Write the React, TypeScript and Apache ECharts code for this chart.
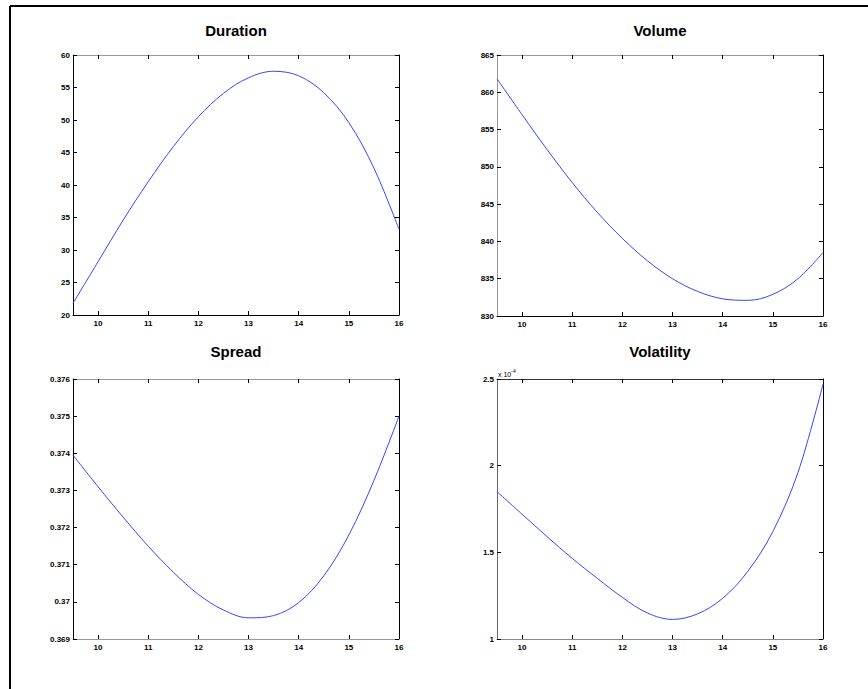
import React, { useEffect, useRef } from "react";
import * as echarts from "echarts";

const xValues = [9.5, 10, 10.5, 11, 11.5, 12, 12.5, 13, 13.5, 14, 14.5, 15, 15.5, 16];
const durationValues = [21.8, 28.2, 34.6, 40.5, 45.9, 50.5, 54.1, 56.5, 57.5, 56.8, 54.2, 49.6, 42.6, 33.2];
const volumeValues = [861.8, 857.0, 852.3, 847.9, 843.9, 840.4, 837.4, 835.0, 833.3, 832.3, 832.1, 832.9, 835.0, 838.5];
const spreadValues = [0.37395, 0.3731, 0.37228, 0.3715, 0.3708, 0.3702, 0.36978, 0.36957, 0.36963, 0.36998, 0.3707, 0.3718, 0.37327, 0.375];
const volatilityValues = [1.85, 1.72, 1.59, 1.465, 1.35, 1.24, 1.15, 1.113, 1.145, 1.235, 1.39, 1.62, 1.96, 2.47];

const xTicks = [10, 11, 12, 13, 14, 15, 16];
const durationTicks = [20, 25, 30, 35, 40, 45, 50, 55, 60];
const volumeTicks = [830, 835, 840, 845, 850, 855, 860, 865];
const spreadTicks = [0.369, 0.37, 0.371, 0.372, 0.373, 0.374, 0.375, 0.376];
const volatilityTicks = [1, 1.5, 2, 2.5];

const titles = ["Duration", "Volume", "Spread", "Volatility"];

const FONT = "'Liberation Sans', Arial, Helvetica, sans-serif";

export default function App() {
  const ref = useRef<HTMLDivElement>(null);
  useEffect(() => {
    if (!ref.current) return;
    const chart = echarts.init(ref.current, null, { renderer: "svg" });

    const panels = [
      { left: 73, top: 55, width: 326, height: 260, data: durationValues, ticks: durationTicks, colors: ["#000", "#999", "#000", "#000"] },
      { left: 497, top: 55, width: 326, height: 261, data: volumeValues, ticks: volumeTicks, colors: ["#999", "#999", "#000", "#000"] },
      { left: 73, top: 379, width: 326, height: 260, data: spreadValues, ticks: spreadTicks, colors: ["#000", "#999", "#999", "#000"] },
      { left: 497, top: 379, width: 326, height: 260, data: volatilityValues, ticks: volatilityTicks, colors: ["#666", "#333", "#888", "#000"] },
    ];

    const grid: any[] = [];
    const xAxis: any[] = [];
    const yAxis: any[] = [];
    const series: any[] = [];
    const graphic: any[] = [];

    const fmt = (v: number) => String(+v.toFixed(4));

    panels.forEach((p, i) => {
      grid.push({ left: p.left, top: p.top, width: p.width, height: p.height, containLabel: false });
      const [cl, ct, cb, cr] = p.colors;
      const tickLabel = { fontFamily: FONT, fontSize: 8, fontWeight: "bold", color: "#000" };
      xAxis.push({
        type: "value", gridIndex: i, position: "bottom", min: 9.5, max: 16,
        axisLine: { show: true, lineStyle: { color: cb, width: 1 } },
        axisTick: { show: true, inside: true, length: 4, customValues: xTicks, lineStyle: { color: "#000" } },
        axisLabel: { show: true, margin: 4, customValues: xTicks, formatter: fmt, ...tickLabel },
        splitLine: { show: false },
      });
      xAxis.push({
        type: "value", gridIndex: i, position: "top", min: 9.5, max: 16,
        axisLine: { show: true, onZero: false, lineStyle: { color: ct, width: 1 } },
        axisTick: { show: true, inside: true, length: 4, customValues: xTicks, lineStyle: { color: "#000" } },
        axisLabel: { show: false },
        splitLine: { show: false },
      });
      const ymin = p.ticks[0];
      const ymax = p.ticks[p.ticks.length - 1];
      yAxis.push({
        type: "value", gridIndex: i, position: "left", min: ymin, max: ymax,
        axisLine: { show: true, onZero: false, lineStyle: { color: cl, width: 1 } },
        axisTick: { show: true, inside: true, length: 4, customValues: p.ticks, lineStyle: { color: "#000" } },
        axisLabel: { show: true, margin: 3, customValues: p.ticks, formatter: fmt, ...tickLabel },
        splitLine: { show: false },
      });
      yAxis.push({
        type: "value", gridIndex: i, position: "right", min: ymin, max: ymax,
        axisLine: { show: true, onZero: false, lineStyle: { color: cr, width: 1 } },
        axisTick: { show: true, inside: true, length: 4, customValues: p.ticks, lineStyle: { color: "#000" } },
        axisLabel: { show: false },
        splitLine: { show: false },
      });
      series.push({
        type: "line",
        xAxisIndex: i * 2,
        yAxisIndex: i * 2,
        data: xValues.map((x, k) => [x, p.data[k]]),
        showSymbol: false,
        smooth: 0.35,
        lineStyle: { color: "#3545ff", width: 1 },
        clip: true,
      });
      graphic.push({
        type: "text",
        x: p.left + p.width / 2,
        y: i < 2 ? 30 : 351,
        style: {
          text: titles[i],
          fontFamily: FONT,
          fontSize: 15,
          fontWeight: "bold",
          fill: "#000",
          textAlign: "center",
          textVerticalAlign: "middle",
        },
      });
    });

    // exponent label for Volatility
    graphic.push({
      type: "text",
      x: 498,
      y: 368,
      style: {
        text: "{a|x 10}{b|-4}",
        rich: {
          a: { fontFamily: FONT, fontSize: 7, fill: "#000", verticalAlign: "bottom" },
          b: { fontFamily: FONT, fontSize: 5, fill: "#000", verticalAlign: "top", padding: [0, 0, 5, 0] },
        },
      },
    });

    // outer frame
    graphic.push({ type: "line", shape: { x1: 10, y1: 6, x2: 868, y2: 6 }, style: { stroke: "#000", lineWidth: 2 } });
    graphic.push({ type: "line", shape: { x1: 10, y1: 6, x2: 10, y2: 689 }, style: { stroke: "#000", lineWidth: 2 } });

    chart.setOption({
      animation: false,
      backgroundColor: "#fff",
      grid,
      xAxis,
      yAxis,
      series,
      graphic,
    });
    return () => chart.dispose();
  }, []);
  return <div ref={ref} style={{ position: "fixed", left: 0, top: 0, width: 868, height: 689 }} />;
}
